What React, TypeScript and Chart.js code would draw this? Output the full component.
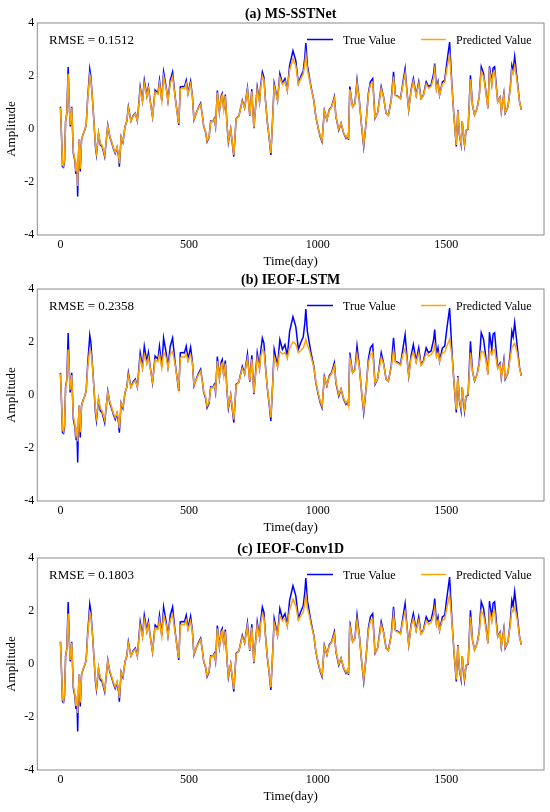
import React, { useEffect, useRef } from "react";
import Chart from "chart.js/auto";

// sample days (at the turning points of the series)
const days = [
  0, 5, 8, 12, 16, 20, 25, 30, 34, 38,
  44, 50, 56, 60, 64, 67, 70, 73, 77, 82,
  88, 94, 100, 106, 110, 114, 118, 124, 130, 136,
  140, 148, 155, 162, 172, 184, 192, 200, 206, 213,
  220, 226, 229, 236, 243, 251, 258, 264, 274, 283,
  291, 299, 310, 319, 326, 336, 342, 349, 358, 368,
  379, 385, 394, 401, 411, 418, 427, 436, 446, 454,
  460, 466, 474, 482, 489, 496, 506, 513, 519, 528,
  536, 545, 552, 557, 564, 570, 578, 584, 592, 598,
  603, 610, 618, 625, 629, 635, 641, 648, 653, 662,
  674, 683, 694, 707, 716, 727, 736, 744, 752, 765,
  774, 778, 785, 791, 797, 804, 811, 818, 825, 831,
  844, 853, 863, 873, 882, 891, 904, 915, 925, 934,
  944, 950, 954, 960, 967, 974, 985, 993, 1002, 1010,
  1017, 1026, 1036, 1045, 1054, 1065, 1071, 1082, 1091, 1101,
  1110, 1117, 1120, 1125, 1130, 1136, 1145, 1153, 1162, 1171,
  1179, 1188, 1197, 1205, 1214, 1223, 1233, 1247, 1256, 1266,
  1275, 1286, 1295, 1302, 1314, 1322, 1331, 1340, 1348, 1354,
  1363, 1372, 1383, 1393, 1402, 1411, 1422, 1431, 1441, 1451,
  1455, 1462, 1468, 1474, 1485, 1494, 1501, 1513, 1522, 1530,
  1539, 1545, 1551, 1558, 1562, 1571, 1577, 1585, 1594, 1602,
  1610, 1620, 1628, 1636, 1645, 1655, 1662, 1668, 1677, 1682,
  1688, 1700, 1709, 1714, 1724, 1729, 1740, 1749, 1755, 1760,
  1766, 1776, 1785, 1792,
];

const trueValue = [
  0.84, -0.5, -1.42, -1.45, -1.2, 0.3, 0.6, 2.34, 1.0, 0.1,
  0.84, -0.9, -1.2, -1.7, -1.3, -2.55, -1.0, -0.4, -1.6, -0.4,
  -0.2, -0.05, 0.15, 1.2, 1.7, 2.26, 2.0, 1.2, 0.3, -0.66,
  -0.97, -0.16, -0.6, -0.66, -1.05, 0.15, -0.3, -0.54, -0.75, -0.92,
  -0.7, -1.05, -1.42, -0.3, -0.5, 0.08, 0.3, 0.84, 0.3, 0.5,
  0.6, 0.3, 1.59, 1.06, 1.84, 1.25, 1.6, 1.06, 0.46, 1.47,
  1.35, 1.84, 1.06, 2.15, 1.59, 1.06, 1.84, 2.15, 1.2, 0.6,
  0.15, 1.59, 1.6, 1.59, 1.84, 1.35, 1.8, 1.25, 0.34, 0.6,
  0.8, 0.97, 0.5, 0.09, -0.1, -0.48, -0.3, 0.3, 0.28, 0.4,
  0.1, 1.45, 0.65, 1.25, 1.34, 0.72, 1.3, 0.09, -0.5, 0.0,
  -1.04, 0.4, 0.5, 1.08, 0.8, 1.55, 0.5, 1.5, 0.03, 1.59,
  1.03, 1.6, 2.15, 1.96, 1.1, 0.28, -0.3, -0.98, 0.4, 1.72,
  1.09, 2.09, 1.72, 1.9, 1.47, 2.4, 2.95, 2.58, 1.72, 1.97,
  2.2, 2.7, 3.24, 2.4, 2.0, 1.6, 1.09, 0.46, 0.03, -0.29,
  -0.48, 0.7, 0.34, 0.72, 0.84, 1.22, 0.46, -0.04, 0.22, -0.16,
  -0.35, -0.22, -0.41, 1.6, 1.22, 0.84, 0.97, 1.85, 1.09, 0.09,
  -0.66, 0.22, 1.34, 1.78, 1.9, 0.4, 0.6, 1.6, 1.22, 0.6,
  0.52, 1.09, 2.16, 1.28, 1.22, 1.15, 1.72, 2.28, 1.34, 0.72,
  1.47, 1.9, 1.28, 1.78, 1.15, 1.28, 1.78, 1.6, 1.66, 2.1,
  2.47, 1.53, 1.78, 1.28, 1.78, 1.84, 2.4, 3.28, 1.66, 0.46,
  -0.66, 0.72, -0.2, -0.6, 0.3, -0.6, -0.05, 0.0, 2.03, 0.9,
  0.53, 0.78, 1.22, 2.35, 2.1, 1.35, 0.78, 2.37, 1.72, 2.3,
  2.35, 1.03, 1.2, 0.65, 1.34, 0.6, 0.84, 1.59, 2.4, 2.2,
  2.73, 1.84, 1.03, 0.72,
];

const predMsSstnet = [
  0.8, -0.45, -1.35, -1.4, -1.15, 0.3, 0.6, 2.08, 1.0, 0.15,
  0.8, -0.85, -1.15, -1.6, -1.25, -2.15, -1.0, -0.4, -1.5, -0.4,
  -0.2, -0.05, 0.15, 1.15, 1.6, 2.05, 1.9, 1.2, 0.3, -0.6,
  -0.9, -0.15, -0.55, -0.62, -1.0, 0.12, -0.28, -0.5, -0.72, -0.88,
  -0.68, -1.0, -1.3, -0.3, -0.48, 0.08, 0.3, 0.8, 0.3, 0.48,
  0.58, 0.3, 1.5, 1.05, 1.72, 1.22, 1.52, 1.05, 0.48, 1.4,
  1.32, 1.72, 1.05, 1.98, 1.52, 1.05, 1.72, 1.98, 1.18, 0.6,
  0.2, 1.5, 1.55, 1.52, 1.72, 1.32, 1.7, 1.22, 0.36, 0.6,
  0.78, 0.93, 0.5, 0.1, -0.08, -0.45, -0.28, 0.28, 0.28, 0.38,
  0.12, 1.38, 0.65, 1.2, 1.28, 0.72, 1.25, 0.1, -0.45, 0.0,
  -0.98, 0.38, 0.5, 1.04, 0.8, 1.48, 0.52, 1.42, 0.06, 1.5,
  1.02, 1.52, 2.0, 1.85, 1.08, 0.3, -0.28, -0.9, 0.38, 1.62,
  1.08, 1.94, 1.68, 1.8, 1.45, 2.22, 2.65, 2.4, 1.7, 1.88,
  2.08, 2.45, 2.8, 2.25, 1.92, 1.55, 1.08, 0.48, 0.05, -0.26,
  -0.44, 0.68, 0.35, 0.7, 0.82, 1.16, 0.48, 0.0, 0.22, -0.14,
  -0.32, -0.2, -0.38, 1.5, 1.2, 0.84, 0.95, 1.74, 1.08, 0.1,
  -0.6, 0.22, 1.28, 1.68, 1.78, 0.42, 0.6, 1.52, 1.2, 0.6,
  0.52, 1.06, 1.98, 1.26, 1.2, 1.14, 1.64, 2.1, 1.3, 0.72,
  1.42, 1.8, 1.26, 1.7, 1.14, 1.26, 1.7, 1.54, 1.6, 1.94,
  2.25, 1.5, 1.7, 1.28, 1.7, 1.76, 2.2, 2.8, 1.6, 0.48,
  -0.6, 0.7, -0.18, -0.55, 0.3, -0.55, -0.04, 0.02, 1.88, 0.9,
  0.54, 0.78, 1.2, 2.18, 1.98, 1.32, 0.78, 2.18, 1.66, 2.12,
  2.18, 1.02, 1.18, 0.66, 1.3, 0.62, 0.84, 1.52, 2.22, 2.08,
  2.38, 1.76, 1.02, 0.72,
];

const predIeofLstm = [
  0.8, -0.4, -1.3, -1.38, -1.1, 0.28, 0.55, 1.72, 0.95, 0.2,
  0.75, -0.8, -1.1, -1.5, -1.2, -1.75, -0.95, -0.4, -1.4, -0.4,
  -0.2, -0.05, 0.15, 1.05, 1.4, 1.72, 1.65, 1.15, 0.3, -0.55,
  -0.85, -0.15, -0.5, -0.6, -0.95, 0.1, -0.25, -0.48, -0.7, -0.85,
  -0.65, -0.95, -1.25, -0.3, -0.45, 0.08, 0.3, 0.75, 0.3, 0.46,
  0.55, 0.3, 1.38, 1.0, 1.52, 1.18, 1.4, 1.02, 0.5, 1.32,
  1.26, 1.55, 1.02, 1.62, 1.42, 1.02, 1.55, 1.65, 1.15, 0.6,
  0.25, 1.4, 1.45, 1.42, 1.55, 1.28, 1.52, 1.2, 0.38, 0.58,
  0.75, 0.9, 0.5, 0.12, -0.06, -0.42, -0.26, 0.26, 0.28, 0.36,
  0.14, 1.28, 0.64, 1.14, 1.2, 0.72, 1.18, 0.12, -0.42, 0.0,
  -0.92, 0.36, 0.5, 1.0, 0.8, 1.38, 0.54, 1.35, 0.08, 1.4,
  1.0, 1.42, 1.7, 1.65, 1.06, 0.32, -0.25, -0.85, 0.36, 1.45,
  1.06, 1.65, 1.55, 1.6, 1.4, 1.78, 2.0, 1.92, 1.6, 1.68,
  1.78, 1.95, 2.1, 1.9, 1.72, 1.45, 1.05, 0.5, 0.08, -0.24,
  -0.42, 0.65, 0.36, 0.68, 0.8, 1.1, 0.5, 0.02, 0.22, -0.12,
  -0.3, -0.2, -0.36, 1.38, 1.16, 0.84, 0.94, 1.55, 1.06, 0.12,
  -0.56, 0.22, 1.2, 1.52, 1.6, 0.44, 0.6, 1.42, 1.18, 0.6,
  0.52, 1.04, 1.7, 1.24, 1.18, 1.12, 1.52, 1.76, 1.28, 0.74,
  1.36, 1.62, 1.24, 1.58, 1.12, 1.24, 1.58, 1.48, 1.52, 1.68,
  1.9, 1.45, 1.58, 1.26, 1.58, 1.62, 1.82, 2.1, 1.5, 0.5,
  -0.55, 0.68, -0.16, -0.5, 0.3, -0.5, -0.03, 0.04, 1.6, 0.88,
  0.55, 0.76, 1.15, 1.65, 1.62, 1.28, 0.78, 1.7, 1.52, 1.68,
  1.72, 1.0, 1.15, 0.68, 1.25, 0.64, 0.84, 1.42, 1.8, 1.85,
  1.95, 1.6, 1.0, 0.72,
];

const predIeofConv1d = [
  0.82, -0.45, -1.32, -1.4, -1.12, 0.3, 0.58, 1.9, 0.98, 0.15,
  0.8, -0.85, -1.12, -1.58, -1.22, -1.85, -0.98, -0.4, -1.45, -0.4,
  -0.2, -0.05, 0.15, 1.1, 1.52, 1.95, 1.82, 1.18, 0.3, -0.58,
  -0.88, -0.15, -0.52, -0.6, -0.98, 0.12, -0.26, -0.5, -0.7, -0.86,
  -0.66, -0.98, -1.28, -0.3, -0.46, 0.08, 0.3, 0.78, 0.3, 0.47,
  0.56, 0.3, 1.45, 1.03, 1.66, 1.2, 1.48, 1.04, 0.48, 1.36,
  1.3, 1.66, 1.04, 1.85, 1.48, 1.04, 1.66, 1.86, 1.16, 0.6,
  0.22, 1.46, 1.5, 1.48, 1.66, 1.3, 1.62, 1.22, 0.37, 0.6,
  0.76, 0.92, 0.5, 0.1, -0.07, -0.44, -0.27, 0.27, 0.28, 0.37,
  0.13, 1.34, 0.65, 1.17, 1.25, 0.72, 1.22, 0.11, -0.44, 0.0,
  -0.95, 0.37, 0.5, 1.02, 0.8, 1.44, 0.53, 1.38, 0.07, 1.46,
  1.01, 1.48, 1.88, 1.76, 1.07, 0.31, -0.26, -0.88, 0.37, 1.55,
  1.07, 1.82, 1.62, 1.72, 1.42, 2.05, 2.45, 2.2, 1.66, 1.8,
  1.95, 2.3, 2.6, 2.12, 1.85, 1.5, 1.06, 0.49, 0.06, -0.25,
  -0.43, 0.66, 0.35, 0.69, 0.81, 1.13, 0.49, 0.01, 0.22, -0.13,
  -0.31, -0.2, -0.37, 1.45, 1.18, 0.84, 0.95, 1.66, 1.07, 0.11,
  -0.58, 0.22, 1.25, 1.62, 1.7, 0.43, 0.6, 1.48, 1.19, 0.6,
  0.52, 1.05, 1.88, 1.25, 1.19, 1.13, 1.6, 1.98, 1.3, 0.73,
  1.4, 1.72, 1.25, 1.64, 1.13, 1.25, 1.64, 1.5, 1.56, 1.85,
  2.1, 1.48, 1.64, 1.27, 1.64, 1.7, 2.05, 2.62, 1.55, 0.49,
  -0.58, 0.69, -0.17, -0.52, 0.3, -0.52, -0.04, 0.03, 1.78, 0.89,
  0.54, 0.77, 1.18, 2.0, 1.85, 1.3, 0.78, 1.98, 1.6, 1.95,
  2.0, 1.01, 1.17, 0.67, 1.28, 0.63, 0.84, 1.48, 2.05, 1.98,
  2.15, 1.68, 1.01, 0.72,
];

const xTickValues = [0, 500, 1000, 1500];
const yTickValues = [-4, -2, 0, 2, 4];

const SERIF = "'Liberation Serif', 'Times New Roman', serif";
const FRAME = "#8a8a8a";

interface PanelProps {
  title: string;
  rmse: string;
  predicted: number[];
  top: number;
}

function Panel({ title, rmse, predicted, top }: PanelProps) {
  const canvasRef = useRef<HTMLCanvasElement | null>(null);

  useEffect(() => {
    if (!canvasRef.current) return;

    const decorations = {
      id: "decorations",
      afterDraw(chart: any) {
        const { ctx, chartArea: a } = chart;
        ctx.save();
        // frame
        ctx.strokeStyle = FRAME;
        ctx.lineWidth = 1;
        ctx.strokeRect(a.left, a.top, a.right - a.left, a.bottom - a.top);

        ctx.fillStyle = "#000";
        // title
        ctx.font = `bold 14px ${SERIF}`;
        ctx.textAlign = "center";
        ctx.textBaseline = "alphabetic";
        ctx.fillText(title, (a.left + a.right) / 2, a.top - 5);
        // x axis title
        ctx.font = `13px ${SERIF}`;
        ctx.fillText("Time(day)", (a.left + a.right) / 2, a.bottom + 30);
        // y axis title
        ctx.save();
        ctx.translate(15, (a.top + a.bottom) / 2);
        ctx.rotate(-Math.PI / 2);
        ctx.fillText("Amplitude", 0, 0);
        ctx.restore();
        // rmse
        ctx.textAlign = "left";
        ctx.fillText(`RMSE = ${rmse}`, 49, a.top + 20.5);
        // legend
        const ly = a.top + 16.5;
        ctx.lineWidth = 1.5;
        ctx.strokeStyle = "blue";
        ctx.beginPath();
        ctx.moveTo(307, ly);
        ctx.lineTo(333, ly);
        ctx.stroke();
        ctx.strokeStyle = "orange";
        ctx.beginPath();
        ctx.moveTo(421, ly);
        ctx.lineTo(446, ly);
        ctx.stroke();
        ctx.font = `12px ${SERIF}`;
        ctx.fillText("True Value", 343, a.top + 20.5);
        ctx.fillText("Predicted Value", 456, a.top + 20.5);
        ctx.restore();
      },
    };

    const tickFont = { family: SERIF, size: 12 };

    const chart = new Chart(canvasRef.current, {
      type: "line",
      data: {
        datasets: [
          {
            label: "True Value",
            data: days.map((d, i) => ({ x: d, y: trueValue[i] })),
            borderColor: "blue",
            borderWidth: 1.5,
            pointRadius: 0,
            tension: 0,
            order: 2,
          },
          {
            label: "Predicted Value",
            data: days.map((d, i) => ({ x: d, y: predicted[i] })),
            borderColor: "orange",
            borderWidth: 1.5,
            pointRadius: 0,
            tension: 0,
            order: 1,
          },
        ],
      },
      options: {
        responsive: false,
        animation: false,
        events: [],
        layout: { padding: { top: 23, right: 6, left: 0, bottom: 0 } },
        plugins: {
          legend: { display: false },
          tooltip: { enabled: false },
          title: { display: false },
        },
        scales: {
          x: {
            type: "linear",
            min: -90,
            max: 1880,
            afterBuildTicks: (scale: any) => {
              scale.ticks = xTickValues.map((value) => ({ value }));
            },
            afterFit: (scale: any) => {
              scale.height = 37;
            },
            grid: { display: false, drawTicks: false },
            border: { display: false },
            ticks: {
              font: tickFont,
              color: "#000",
              padding: 3,
              maxRotation: 0,
              autoSkip: false,
              callback: (v: any) => String(v),
            },
          },
          y: {
            min: -4,
            max: 4,
            afterBuildTicks: (scale: any) => {
              scale.ticks = yTickValues.map((value) => ({ value }));
            },
            afterFit: (scale: any) => {
              scale.width = 37.3;
            },
            grid: { display: false, drawTicks: false },
            border: { display: false },
            ticks: {
              font: tickFont,
              color: "#000",
              padding: 3,
              autoSkip: false,
              callback: (v: any) => String(v),
            },
          },
        },
      },
      plugins: [decorations],
    });

    return () => chart.destroy();
  }, [title, rmse, predicted]);

  return (
    <canvas
      ref={canvasRef}
      width={550}
      height={272}
      style={{ position: "absolute", left: 0, top, width: 550, height: 272 }}
    />
  );
}

export default function App() {
  return (
    <div
      style={{
        position: "absolute",
        left: 0,
        top: 0,
        width: 550,
        height: 812,
        background: "#fff",
        overflow: "hidden",
      }}
    >
      <Panel title="(a) MS-SSTNet" rmse="0.1512" predicted={predMsSstnet} top={0} />
      <Panel title="(b) IEOF-LSTM" rmse="0.2358" predicted={predIeofLstm} top={266} />
      <Panel title="(c) IEOF-Conv1D" rmse="0.1803" predicted={predIeofConv1d} top={535} />
    </div>
  );
}
